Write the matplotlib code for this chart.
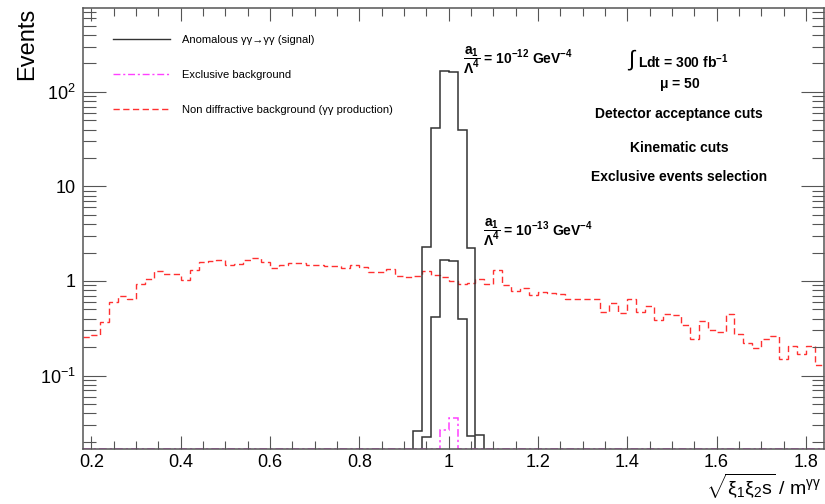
import numpy as np
import matplotlib
matplotlib.use("Agg")
import matplotlib.pyplot as plt
from matplotlib.lines import Line2D
from matplotlib.ticker import FixedLocator, FixedFormatter, LogLocator, MultipleLocator, NullFormatter

plt.rcParams['font.family'] = ['Liberation Sans', 'DejaVu Sans']
plt.rcParams['mathtext.fontset'] = 'custom'
plt.rcParams['mathtext.rm'] = 'Liberation Sans'
plt.rcParams['mathtext.it'] = 'Liberation Sans:italic'
plt.rcParams['mathtext.bf'] = 'Liberation Sans:bold'
plt.rcParams['mathtext.default'] = 'regular'

# histogram binning (0.02 wide bins)
x_lo, x_hi, bin_w = 0.18, 1.84, 0.02
y_lo, y_hi = 0.0169, 770

# non diffractive gamma-gamma background, one value per bin from 0.18 to 1.84
nondiff_bkg = [0.256, 0.268, 0.372, 0.600, 0.694, 0.645, 0.923, 1.05, 1.28, 1.18,
               1.19, 1.03, 1.32, 1.59, 1.63, 1.67, 1.49, 1.53, 1.68, 1.73,
               1.58, 1.38, 1.49, 1.56, 1.56, 1.49, 1.49, 1.43, 1.45, 1.38,
               1.46, 1.41, 1.23, 1.25, 1.33, 1.13, 1.09, 1.14, 1.28, 1.15,
               1.10, 1.00, 0.92, 0.95, 1.06, 0.94, 1.32, 0.916, 0.778, 0.851,
               0.718, 0.773, 0.754, 0.735, 0.64, 0.65, 0.65, 0.65, 0.47, 0.585,
               0.458, 0.65, 0.47, 0.55, 0.39, 0.452, 0.441, 0.346, 0.243, 0.377,
               0.30, 0.289, 0.448, 0.277, 0.221, 0.195, 0.243, 0.262, 0.15, 0.205,
               0.171, 0.204, 0.128]

# anomalous signal, a1/L^4 = 1e-12 and 1e-13 GeV^-4
sig12_edges = [0.92, 0.94, 0.96, 0.98, 1.00, 1.02, 1.04, 1.06, 1.08]
sig12 = [0.026, 2.29, 41.6, 168, 164, 39.4, 2.23, 0.0236]
sig13_edges = [0.94, 0.96, 0.98, 1.00, 1.02, 1.04, 1.06]
sig13 = [0.0225, 0.416, 1.68, 1.64, 0.40, 0.023]

# exclusive background (non-empty bins only)
excl_edges = [0.98, 1.00, 1.02]
excl_bkg = [0.0266, 0.0353]

edges = np.round(x_lo + bin_w * np.arange(len(nondiff_bkg) + 1), 2)
excl_full = np.zeros(len(nondiff_bkg))
for lo, val in zip(excl_edges[:-1], excl_bkg):
    excl_full[int(round((lo - x_lo) / bin_w))] = val
excl_full = np.maximum(excl_full, y_lo)

fig = plt.figure(figsize=(8.25, 5.04), dpi=100)
ax = fig.add_axes([0.1, 0.11, 0.8985, 0.874])
ax.set_yscale('log')

black = '#333333'
red = '#ff3030'
magenta = '#ff40ff'

ax.stairs(nondiff_bkg, edges, baseline=None, color=red, lw=1.0, ls=(0, (4.5, 2.5)))
ax.stairs(sig12, sig12_edges, baseline=y_lo, color=black, lw=1.1)
ax.stairs(sig13, sig13_edges, baseline=y_lo, color=black, lw=1.1)
ax.stairs(excl_full, edges, baseline=None, color=magenta, lw=1.1, ls=(0, (5, 2, 1.5, 2)))

ax.set_xlim(x_lo, x_hi)
ax.set_ylim(y_lo, y_hi)

# axis ticks on all four sides, pointing inwards
xt = np.round(np.arange(0.2, 1.81, 0.2), 1)
ax.xaxis.set_major_locator(FixedLocator(xt))
ax.xaxis.set_major_formatter(FixedFormatter(['%g' % v for v in xt]))
ax.xaxis.set_minor_locator(MultipleLocator(0.05))
ax.yaxis.set_major_locator(FixedLocator([0.1, 1, 10, 100]))
ax.yaxis.set_major_formatter(FixedFormatter(['$10^{-1}$', '1', '10', '$10^{2}$']))
ax.yaxis.set_minor_locator(LogLocator(base=10, subs=np.arange(2, 10)))
ax.yaxis.set_minor_formatter(NullFormatter())

axis_col = '#555555'
ax.tick_params(axis='both', which='both', direction='in', top=True, right=True,
               colors=axis_col, labelcolor='black', labelsize=13, width=0.8)
ax.tick_params(axis='x', which='major', length=9.6, pad=4)
ax.tick_params(axis='x', which='minor', length=5.5)
ax.tick_params(axis='y', which='major', length=16.3, pad=5)
ax.tick_params(axis='y', which='minor', length=9.0)
for sp in ax.spines.values():
    sp.set_color(axis_col)
    sp.set_linewidth(1.1)

ax.set_ylabel('Events', fontsize=17, loc='top')
ax.yaxis.set_label_coords(-0.060, 1.0)
ax.set_xlabel(r'$\sqrt{\xi_{1}\xi_{2}s}$ / m$^{\gamma\gamma}$', fontsize=14, loc='right')
ax.xaxis.set_label_coords(0.9966, -0.053)

handles = [Line2D([], [], color=black, lw=1.0),
           Line2D([], [], color=magenta, lw=1.0, ls=(0, (5, 2, 1.5, 2))),
           Line2D([], [], color=red, lw=1.0, ls=(0, (4.5, 2.5)))]
labels = ['Anomalous γγ→γγ (signal)',
          'Exclusive background',
          'Non diffractive background (γγ production)']
ax.legend(handles, labels, loc='upper left', bbox_to_anchor=(0.041, 0.938),
          frameon=False, fontsize=8, handlelength=5.1, handletextpad=1.1,
          labelspacing=2.25, borderpad=0, borderaxespad=0)

# coupling labels next to the two signal peaks
ax.text(1.033, 216, r'$\dfrac{\mathbf{a_1}}{\Lambda^4}$ = 10$^{\mathbf{-12}}$ GeV$^{\mathbf{-4}}$',
        fontsize=10, fontweight='bold', ha='left', va='center')
ax.text(1.078, 3.3, r'$\dfrac{\mathbf{a_1}}{\Lambda^4}$ = 10$^{\mathbf{-13}}$ GeV$^{\mathbf{-4}}$',
        fontsize=10, fontweight='bold', ha='left', va='center')

# run conditions
ax.text(0.742, 0.881, r'$\int$', transform=ax.transAxes, fontsize=16,
        ha='center', va='center')
ax.text(0.750, 0.879, r'Ldt = 300 fb$^{\mathbf{-1}}$', transform=ax.transAxes,
        fontsize=10, fontweight='bold', ha='left', va='center')
info = [(0.8275, r'$\mu$ = 50'),
        (0.759, 'Detector acceptance cuts'),
        (0.682, 'Kinematic cuts'),
        (0.616, 'Exclusive events selection')]
for yy, txt in info:
    ax.text(0.805, yy, txt, transform=ax.transAxes, fontsize=10, fontweight='bold',
            ha='center', va='center')

fig.savefig('out.png', dpi=100)
